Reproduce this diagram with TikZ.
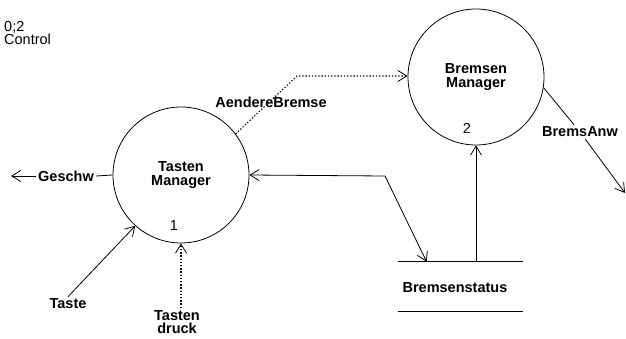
\documentclass[tikz,border=0pt]{standalone}
\usepackage{fontspec}
\setmainfont{Liberation Sans}
\usetikzlibrary{arrows.meta,calc}
\tikzset{
  proc/.style={circle, draw, line width=0.8pt, minimum size=136pt, inner sep=0pt,
    font=\fontsize{14.5}{13.5}\selectfont\bfseries, align=center},
  lbl/.style={font=\fontsize{14.5}{13.5}\selectfont\bfseries, align=center, inner sep=2pt},
  num/.style={font=\fontsize{14.5}{13.5}\selectfont, inner sep=0pt},
  flow/.style={line width=0.8pt, -{Straight Barb[length=9pt,width=11pt,line width=0.8pt]}},
  flow2/.style={line width=0.8pt, {Straight Barb[length=9pt,width=11pt,line width=0.8pt]}-{Straight Barb[length=9pt,width=11pt,line width=0.8pt]}},
  plain/.style={line width=0.8pt},
  dots/.style={line width=1.1pt, dash pattern=on 1.3pt off 1.9pt},
}
\begin{document}
\begin{tikzpicture}[x=1pt,y=-1pt]
\useasboundingbox (0,0) rectangle (626,339);
% title
\node[num, anchor=north west, align=left, font=\fontsize{14.5}{13}\selectfont] (ctl) at (4,21) {0;2\\Control};
% processes
\node[proc] (c1) at (181,175) {Tasten\\Manager};
\node[num] (n1) at (174,226) {1};
\node[proc] (c2) at (476,77) {Bremsen\\Manager};
\node[num] (n2) at (467,128) {2};
% store
\node[minimum width=125pt, minimum height=49pt, inner sep=0pt] (bs) at (460.5,286.5) {};
\node[lbl] (bst) at (455,288) {Bremsenstatus};
\draw[plain] (bs.north west) -- (bs.north east);
\draw[plain] (bs.south west) -- (bs.south east);
% labels
\node[lbl] (geschw) at (66,176) {Geschw};
\node[lbl] (taste) at (68,304) {Taste};
\node[lbl] (td) at (177,322) {Tasten\\druck};
\node[lbl] (ab) at (271,102) {AendereBremse};
\node[lbl] (ba) at (580,132) {BremsAnw};
% coordinates
\coordinate (gend) at (11,176);
\coordinate (abk) at (297,76);
\coordinate (bk) at (385,176);
\coordinate (bsin) at ($(bs.north west)!0.23!(bs.north east)$);
\coordinate (baend) at (625,193);
% connectors
\draw[plain] (c1.west) -- (geschw.east);
\draw[flow] (geschw.west) -- (gend);
\draw[flow] (taste.north) -- (c1.228);
\draw[flow, dots] (c1.south |- td.north) -- (c1.south);
\draw[flow, dots] (c1.37) -- (abk) -- (abk -| c2.west);
\draw[flow2] (c1.east) -- (bk) -- (bsin);
\draw[flow] (bs.north -| c2.south) -- (c2.south);
\draw[plain] (c2.-9) -- (ba);
\draw[flow] (ba) -- (baend);
\end{tikzpicture}
\end{document}
